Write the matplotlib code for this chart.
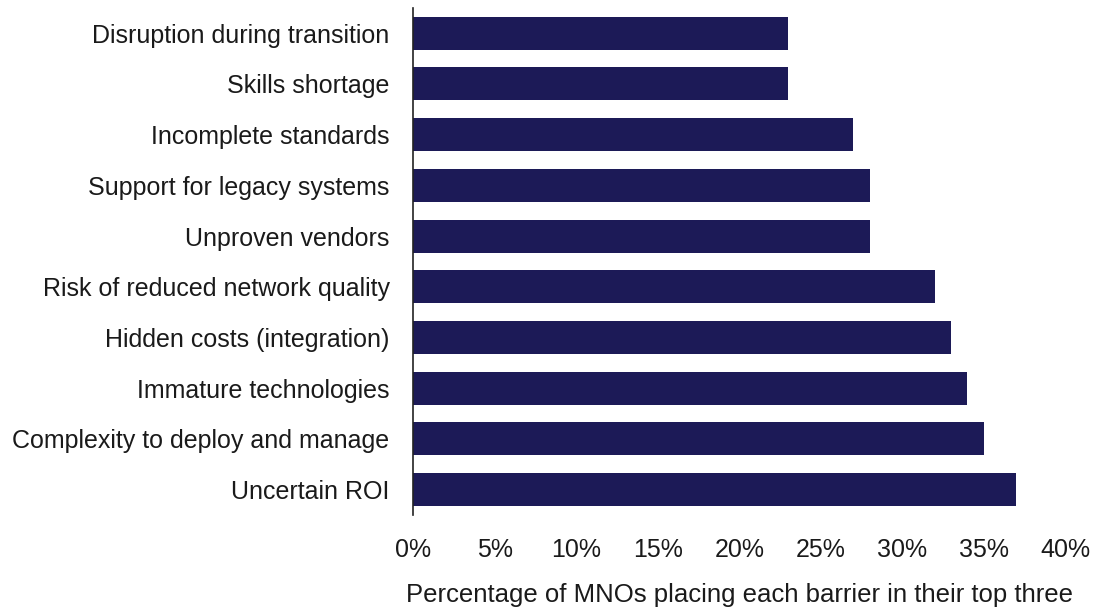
import matplotlib
matplotlib.use("Agg")
import matplotlib.pyplot as plt
from matplotlib.ticker import FuncFormatter

# barriers listed bottom to top, as they are drawn on the y axis
barriers = [
    "Uncertain ROI",
    "Complexity to deploy and manage",
    "Immature technologies",
    "Hidden costs (integration)",
    "Risk of reduced network quality",
    "Unproven vendors",
    "Support for legacy systems",
    "Incomplete standards",
    "Skills shortage",
    "Disruption during transition",
]
share = [37, 35, 34, 33, 32, 28, 28, 27, 23, 23]
xticks = [0, 5, 10, 15, 20, 25, 30, 35, 40]

plt.rcParams['font.family'] = ['Liberation Sans', 'DejaVu Sans']

fig = plt.figure(figsize=(10.96, 6.10), dpi=100)
ax = fig.add_axes([0.377, 0.156, 0.595, 0.831])

ax.barh(range(len(barriers)), share, height=0.65, color="#1c1a57")

ax.set_ylim(-0.5, len(barriers) - 0.5)
ax.set_xlim(0, 40)
ax.set_yticks(range(len(barriers)))
ax.set_yticklabels(barriers, fontsize=18, color="#1a1a1a")
ax.set_xticks(xticks)
ax.xaxis.set_major_formatter(FuncFormatter(lambda v, p: f"{v:.0f}%"))
ax.tick_params(axis="x", length=0, labelsize=18, pad=17, labelcolor="#1a1a1a")
ax.tick_params(axis="y", length=0, pad=17)

for s in ["top", "right", "bottom"]:
    ax.spines[s].set_visible(False)
ax.spines["left"].set_color("#222222")
ax.spines["left"].set_linewidth(1.2)

ax.set_xlabel("Percentage of MNOs placing each barrier in their top three",
              fontsize=18.5, color="#1a1a1a", labelpad=15)

fig.savefig("out.png", dpi=100)
